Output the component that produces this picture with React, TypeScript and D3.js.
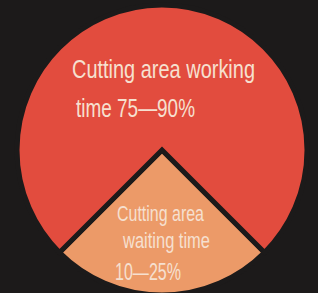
import React from 'react';
import * as d3 from 'd3';

// slices, waiting first so it lands at the bottom
const labels = ['waiting', 'working'];
const values = [25, 75];
const colors = ['#ec9a68', '#e24c3e'];

const upperLines = ['Cutting area working', 'time 75\u201490%'];
const lowerLines = ['Cutting area', 'waiting time', '10\u201425%'];

const W = 318;
const H = 293;
const BG = '#1c1a1a';

export default function App() {
  const cx = 162;
  const cy = 150;
  const r = 145;

  const pie = d3.pie<number>()
    .sort(null)
    .startAngle(Math.PI * 0.75)
    .endAngle(Math.PI * 2.75);
  const arcs = pie(values);
  const arc = d3.arc<d3.PieArcDatum<number>>().innerRadius(0).outerRadius(r);

  const font = '"Liberation Sans Narrow", "Arial Narrow", "Liberation Sans", Arial, sans-serif';

  return (
    <svg width={W} height={H} style={{ position: 'absolute', left: 0, top: 0, display: 'block' }}>
      <rect x={0} y={0} width={W} height={H} fill={BG} />
      <g transform={`translate(${cx},${cy})`}>
        {arcs.map((a, i) => (
          <path key={labels[i]} d={arc(a) || ''} fill={colors[i]} stroke={BG} strokeWidth={5} strokeLinejoin="miter" />
        ))}
      </g>
      <g fill="#f6e0d0" fontFamily={font}>
        <text x={72} y={78} fontSize={25} textLength={183} lengthAdjust="spacingAndGlyphs">{upperLines[0]}</text>
        <text x={76} y={116.5} fontSize={25} textLength={119} lengthAdjust="spacingAndGlyphs">{upperLines[1]}</text>
        <text x={117} y={221} fontSize={22} textLength={87} lengthAdjust="spacingAndGlyphs">{lowerLines[0]}</text>
        <text x={123} y={248} fontSize={22} textLength={87} lengthAdjust="spacingAndGlyphs">{lowerLines[1]}</text>
        <text x={115} y={280} fontSize={23} textLength={66} lengthAdjust="spacingAndGlyphs">{lowerLines[2]}</text>
      </g>
    </svg>
  );
}
